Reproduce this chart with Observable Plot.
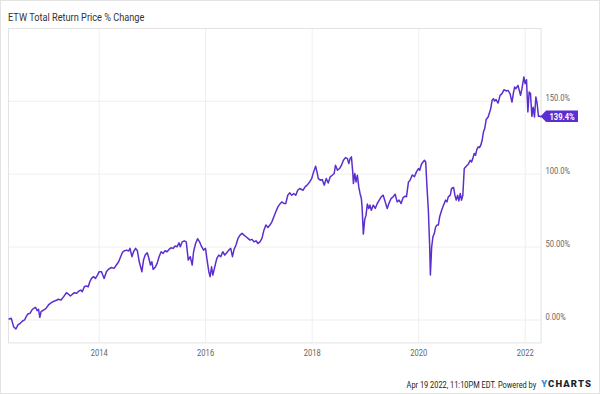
<!DOCTYPE html>
<html>
<head>
<meta charset="utf-8">
<script src="https://cdn.jsdelivr.net/npm/d3@7"></script>
<script src="https://cdn.jsdelivr.net/npm/@observablehq/plot@0.6"></script>
<style>
  body { margin: 0; background: #fff; }
  #wrap { position: relative; width: 600px; height: 394px; box-sizing: border-box; border: 1px solid #e3e3e3; overflow: hidden; font-family: Roboto, sans-serif; }
  #chart { position: absolute; left: -1px; top: -1px; }
  #title { position: absolute; left: 7px; top: 9px; font-size: 11.5px; color: #333; white-space: nowrap; transform: scaleX(0.8); transform-origin: 0 0; }
  #stamp { position: absolute; right: 63px; top: 378px; font-size: 9.5px; color: #222; white-space: nowrap; transform: scaleX(0.78); transform-origin: 100% 0; }
  #logo { position: absolute; right: 7px; top: 377px; font-size: 9.5px; font-weight: 900; letter-spacing: 1.1px; color: #1d1f2e; white-space: nowrap; }
  #logo .y { color: #2f8fe0; }
</style>
</head>
<body>
<div id="wrap">
  <div id="chart"></div>
  <div id="title">ETW Total Return Price % Change</div>
  <div id="stamp">Apr 19 2022, 11:10PM EDT. Powered by</div>
  <div id="logo"><span class="y">Y</span>CHARTS</div>
</div>
<script>
// Decimal-year dates
const dates = [
  2012.311, 2012.349, 2012.394, 2012.437, 2012.474, 2012.517, 2012.562, 2012.599, 2012.623, 2012.661,
  2012.704, 2012.736, 2012.773, 2012.805, 2012.835, 2012.861, 2012.885, 2012.909, 2012.954, 2012.997,
  2013.047, 2013.096, 2013.146, 2013.197, 2013.234, 2013.283, 2013.333, 2013.384, 2013.421, 2013.458,
  2013.496, 2013.533, 2013.576, 2013.619, 2013.656, 2013.682, 2013.720, 2013.757, 2013.795, 2013.824,
  2013.856, 2013.894, 2013.931, 2013.968, 2014.000, 2014.043, 2014.093, 2014.136, 2014.179, 2014.230,
  2014.280, 2014.323, 2014.366, 2014.403, 2014.441, 2014.478, 2014.516, 2014.553, 2014.579, 2014.616,
  2014.646, 2014.684, 2014.715, 2014.753, 2014.803, 2014.833, 2014.865, 2014.902, 2014.926, 2014.964,
  2014.990, 2015.014, 2015.052, 2015.089, 2015.126, 2015.164, 2015.201, 2015.238, 2015.276, 2015.313,
  2015.350, 2015.388, 2015.425, 2015.462, 2015.500, 2015.524, 2015.561, 2015.599, 2015.636, 2015.674,
  2015.711, 2015.748, 2015.774, 2015.812, 2015.849, 2015.886, 2015.911, 2015.961, 2015.998, 2016.023,
  2016.060, 2016.084, 2016.111, 2016.135, 2016.172, 2016.210, 2016.247, 2016.284, 2016.322, 2016.359,
  2016.396, 2016.434, 2016.471, 2016.503, 2016.533, 2016.570, 2016.607, 2016.645, 2016.682, 2016.720,
  2016.757, 2016.794, 2016.832, 2016.869, 2016.906, 2016.944, 2016.981, 2017.018, 2017.056, 2017.093,
  2017.130, 2017.168, 2017.205, 2017.242, 2017.280, 2017.317, 2017.355, 2017.392, 2017.429, 2017.467,
  2017.504, 2017.541, 2017.579, 2017.616, 2017.653, 2017.691, 2017.728, 2017.765, 2017.829, 2017.866,
  2017.904, 2017.952, 2017.990, 2018.027, 2018.064, 2018.090, 2018.115, 2018.152, 2018.189, 2018.227,
  2018.264, 2018.301, 2018.339, 2018.376, 2018.413, 2018.438, 2018.475, 2018.513, 2018.550, 2018.587,
  2018.625, 2018.662, 2018.688, 2018.712, 2018.737, 2018.763, 2018.774, 2018.800, 2018.824, 2018.849,
  2018.875, 2018.899, 2018.923, 2018.937, 2018.961, 2018.987, 2019.011, 2019.036, 2019.062, 2019.086,
  2019.110, 2019.148, 2019.185, 2019.222, 2019.260, 2019.297, 2019.334, 2019.372, 2019.409, 2019.446,
  2019.484, 2019.521, 2019.558, 2019.596, 2019.633, 2019.671, 2019.708, 2019.745, 2019.771, 2019.809,
  2019.833, 2019.883, 2019.921, 2019.958, 2019.996, 2020.020, 2020.052, 2020.082, 2020.108, 2020.132,
  2020.156, 2020.182, 2020.207, 2020.220, 2020.244, 2020.268, 2020.294, 2020.319, 2020.343, 2020.369,
  2020.394, 2020.431, 2020.468, 2020.506, 2020.530, 2020.556, 2020.593, 2020.617, 2020.655, 2020.679,
  2020.705, 2020.730, 2020.754, 2020.780, 2020.804, 2020.828, 2020.855, 2020.892, 2020.929, 2020.967,
  2020.991, 2021.015, 2021.041, 2021.066, 2021.090, 2021.116, 2021.141, 2021.165, 2021.191, 2021.215,
  2021.239, 2021.266, 2021.303, 2021.327, 2021.352, 2021.378, 2021.402, 2021.426, 2021.452, 2021.490,
  2021.527, 2021.564, 2021.602, 2021.639, 2021.676, 2021.714, 2021.751, 2021.776, 2021.800, 2021.826,
  2021.863, 2021.888, 2021.912, 2021.938, 2021.975, 2021.999, 2022.024, 2022.050, 2022.074, 2022.099,
  2022.125, 2022.149, 2022.174, 2022.200, 2022.224, 2022.249, 2022.275, 2022.298
];
// Total return % change
const returns = [
  0.7, 1.2, -4.6, -6.2, -3.4, -2.3, -0.7, 0.0, 1.8, 4.1,
  4.6, 6.8, 8.0, 8.7, 6.4, 7.3, 1.8, 5.7, 6.8, 7.8,
  10.3, 11.8, 12.8, 13.5, 14.2, 13.7, 16.0, 18.7, 17.8, 16.4,
  17.6, 18.7, 18.3, 19.9, 20.5, 19.4, 22.8, 23.3, 22.8, 26.2,
  28.5, 29.7, 28.5, 30.8, 33.1, 33.1, 28.5, 33.1, 34.9, 36.0,
  35.4, 37.7, 39.9, 43.4, 46.6, 47.5, 47.9, 47.3, 49.1, 43.4,
  46.8, 49.1, 47.9, 39.9, 33.1, 41.1, 44.5, 46.1, 43.4, 37.7,
  39.9, 34.7, 36.1, 38.8, 43.4, 46.8, 45.7, 47.5, 46.8, 48.4,
  49.5, 49.1, 50.7, 50.2, 52.9, 50.2, 53.6, 54.3, 53.6, 41.1,
  43.4, 37.7, 46.8, 52.5, 55.7, 53.6, 51.4, 47.9, 49.1, 42.3,
  33.1, 29.7, 36.5, 30.8, 36.5, 42.3, 44.5, 43.4, 46.8, 44.5,
  46.1, 47.9, 49.1, 43.4, 48.4, 51.4, 56.0, 58.2, 59.4, 58.2,
  57.1, 56.0, 54.8, 55.3, 53.6, 54.3, 52.5, 53.6, 56.0, 61.6,
  65.1, 63.5, 65.1, 67.3, 70.8, 74.2, 77.6, 79.5, 81.0, 79.9,
  79.9, 85.6, 87.2, 85.6, 86.8, 85.6, 89.0, 90.2, 89.0, 91.3,
  92.5, 94.7, 97.0, 101.6, 105.5, 101.6, 97.0, 95.9, 96.4, 92.5,
  97.0, 94.0, 98.2, 99.3, 100.5, 106.2, 102.7, 103.9, 106.2, 109.6,
  111.4, 110.7, 107.3, 110.7, 111.9, 100.9, 93.6, 100.5, 94.7, 99.3,
  91.3, 86.8, 83.4, 77.6, 58.9, 69.0, 71.9, 79.5, 76.5, 78.8,
  75.3, 78.8, 76.5, 79.9, 82.2, 84.5, 85.6, 81.0, 76.5, 80.4,
  83.4, 84.5, 86.3, 81.0, 82.2, 79.9, 84.0, 84.9, 84.5, 94.7,
  95.5, 99.5, 98.2, 101.6, 103.9, 102.7, 106.8, 108.4, 109.6, 108.4,
  91.3, 75.3, 50.2, 30.8, 50.2, 57.1, 59.4, 63.9, 65.1, 65.1,
  70.8, 75.3, 78.8, 82.2, 81.0, 84.5, 85.6, 90.2, 90.9, 85.6,
  82.2, 85.6, 81.7, 86.8, 82.2, 85.6, 103.9, 105.5, 106.8, 109.6,
  108.4, 110.7, 114.2, 113.0, 116.9, 118.7, 118.2, 119.9, 123.3, 129.0,
  131.3, 137.5, 139.2, 142.0, 145.0, 150.7, 151.8, 150.2, 151.2, 148.8,
  154.1, 155.3, 158.0, 157.1, 157.5, 155.3, 149.5, 155.3, 159.8, 158.7,
  161.0, 157.5, 154.1, 158.7, 166.7, 162.1, 164.8, 142.7, 156.4, 155.3,
  139.7, 146.0, 139.2, 153.0, 148.4, 139.7, 139.9, 139.4
];
const xTickYears = [2014, 2016, 2018, 2020, 2022];
const yTicks = [0, 50, 100, 150];
const yTickLabels = ["0.00%", "50.00%", "100.0%", "150.0%"];
const xDomainYears = [2012.298, 2022.298];
const yDomain = [-15.75, 200];
const lastLabel = "139.4%";

const toDate = (y) => {
  const yr = Math.floor(y);
  const s = Date.UTC(yr, 0, 1), e = Date.UTC(yr + 1, 0, 1);
  return new Date(s + (y - yr) * (e - s));
};
const data = dates.map((d, i) => ({date: toDate(d), value: returns[i]}));
const last = data[data.length - 1];
const xTicks = xTickYears.map((y) => new Date(Date.UTC(y, 0, 1)));
const purple = "#5b2ecf";

const badge = (index, scales) => {
  const xp = scales.x(last.date), yp = scales.y(last.value);
  const g = d3.create("svg:g").attr("class", "badge");
  g.append("path")
    .attr("d", `M${xp},${yp}L${xp + 5.5},${yp - 5.8}H${xp + 37.5}V${yp + 5.8}H${xp + 5.5}Z`)
    .attr("fill", purple);
  g.append("text")
    .attr("x", xp + 21.5).attr("y", yp).attr("dy", "0.35em")
    .attr("text-anchor", "middle").attr("fill", "#fff")
    .attr("font-size", 9.5).attr("font-weight", "bold")
    .text(lastLabel);
  return g.node();
};

const chart = Plot.plot({
  width: 600,
  height: 394,
  marginTop: 28,
  marginLeft: 8,
  marginRight: 58.5,
  marginBottom: 51,
  style: {fontFamily: "Roboto, sans-serif", fontSize: "9.5px", color: "#666", background: "transparent", overflow: "visible"},
  x: {type: "utc", domain: xDomainYears.map(toDate), label: null},
  y: {domain: yDomain, label: null},
  marks: [
    Plot.gridX(xTicks, {stroke: "#efefef", strokeOpacity: 1}),
    Plot.gridY(yTicks, {stroke: "#efefef", strokeOpacity: 1}),
    Plot.frame({stroke: "#e3e3e3"}),
    Plot.axisX(xTicks, {tickSize: 0, tickPadding: 6, label: null, tickFormat: (d) => String(d.getUTCFullYear()), fill: "#666"}),
    Plot.axisY(yTicks, {anchor: "right", tickSize: 0, tickPadding: 4.5, dy: -3.5, label: null, tickFormat: (d) => yTickLabels[yTicks.indexOf(d)], fill: "#666"}),
    Plot.line(data, {x: "date", y: "value", stroke: purple, strokeWidth: 1.5}),
    badge
  ]
});
document.getElementById("chart").appendChild(chart);

// Condense axis and badge text to mimic the narrow reference font
chart.querySelectorAll("text").forEach((t) => {
  const len = t.getComputedTextLength();
  if (len > 0) {
    t.setAttribute("textLength", (len * 0.8).toFixed(2));
    t.setAttribute("lengthAdjust", "spacingAndGlyphs");
  }
});
</script>
</body>
</html>
